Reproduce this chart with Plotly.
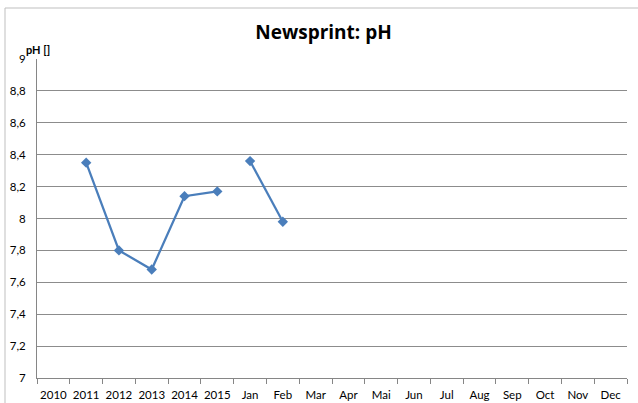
import plotly.graph_objects as go

categories = ["2010", "2011", "2012", "2013", "2014", "2015", "Jan", "Feb", "Mar", "Apr",
              "Mai", "Jun", "Jul", "Aug", "Sep", "Oct", "Nov", "Dec"]
year_labels = ["2010", "2011", "2012", "2013", "2014", "2015"]
year_ph = [None, 8.35, 7.80, 7.68, 8.14, 8.17]
month_labels = ["Jan", "Feb", "Mar", "Apr", "Mai", "Jun", "Jul", "Aug", "Sep", "Oct", "Nov", "Dec"]
month_ph = [8.36, 7.98, None, None, None, None, None, None, None, None, None, None]
y_ticks = [7.0, 7.2, 7.4, 7.6, 7.8, 8.0, 8.2, 8.4, 8.6, 8.8, 9.0]
y_ticktext = ["7", "7,2", "7,4", "7,6", "7,8", "8", "8,2", "8,4", "8,6", "8,8", "9"]

line_color = "#4A7EBB"
font_family = "Lato, 'Liberation Sans', sans-serif"
title_family = "'Open Sans', Lato, sans-serif"

fig = go.Figure()
for xs, ys in ((year_labels, year_ph), (month_labels, month_ph)):
    fig.add_trace(go.Scatter(
        x=xs, y=ys, mode="lines+markers",
        line=dict(color=line_color, width=2.25),
        marker=dict(symbol="diamond", size=8, color=line_color),
        connectgaps=False, showlegend=False, hoverinfo="x+y",
    ))

fig.update_layout(
    width=638, height=403, autosize=False,
    margin=dict(l=37, r=11, t=59, b=25),
    paper_bgcolor="white", plot_bgcolor="white",
    font=dict(family=font_family, size=11.5, color="#000000"),
    title=dict(text="<b>Newsprint: pH</b>", x=323.5 / 638, xanchor="center",
               y=1 - 32 / 403, yanchor="middle",
               font=dict(family=title_family, size=19, color="#000000")),
    xaxis=dict(type="category", categoryorder="array", categoryarray=categories,
               range=[-0.5, len(categories) - 0.5],
               showgrid=False, showline=True, linecolor="#868686", linewidth=1,
               ticks="outside", tickson="boundaries", ticklen=5, tickcolor="#868686",
               tickangle=0, automargin=False, ticklabelstandoff=6,
               tickfont=dict(size=11.5), zeroline=False, fixedrange=True),
    yaxis=dict(range=[7, 9], tickvals=y_ticks, ticktext=y_ticktext,
               showgrid=True, gridcolor="#8C8C8C", gridwidth=1,
               showline=True, linecolor="#868686", linewidth=1, automargin=False,
               ticks="", ticklabelstandoff=8, tickfont=dict(size=11.5),
               zeroline=False, fixedrange=True),
    annotations=[dict(text="<b>pH []</b>", xref="paper", yref="paper",
                      x=1 / 590, y=(378 - 49) / 319, xanchor="center", yanchor="middle",
                      showarrow=False, font=dict(family=font_family, size=11, color="#000000"))],
    shapes=[dict(type="rect", xref="paper", yref="paper",
                 x0=-32 / 590, x1=1.2, y0=-0.3, y1=(378 - 8) / 319,
                 line=dict(color="#BFBFBF", width=1), layer="below")],
)

fig.write_html("out.html", config={"displayModeBar": False},
               post_script="document.body.style.margin='0';")
